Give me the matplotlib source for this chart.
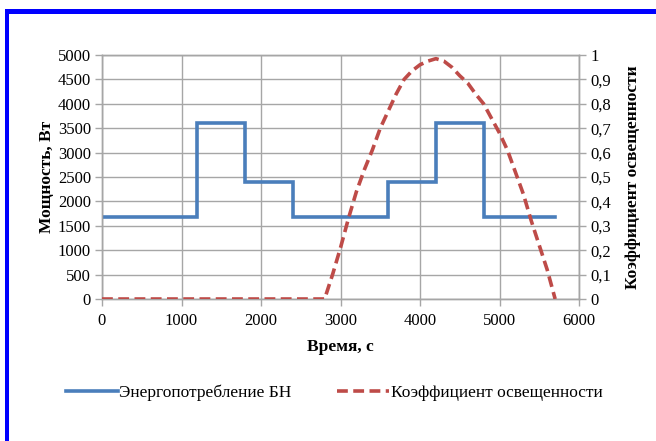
import matplotlib
matplotlib.use("Agg")
import matplotlib.pyplot as plt
from matplotlib.patches import Rectangle
from matplotlib.ticker import FixedLocator, FuncFormatter

# Power consumption of the onboard network (step profile), W
power_time = [0, 1200, 1200, 1800, 1800, 2400, 2400, 3600, 3600, 4200, 4200, 4800, 4800, 5700]
power_w = [1680, 1680, 3600, 3600, 2400, 2400, 1680, 1680, 2400, 2400, 3600, 3600, 1680, 1680]

# Illumination coefficient over time
light_time = [0, 2800, 2900, 3000, 3100, 3200, 3300, 3400, 3500, 3600, 3700, 3800, 3900,
              4000, 4100, 4200, 4300, 4400, 4500, 4600, 4700, 4800, 4900, 5000, 5100,
              5200, 5300, 5400, 5500, 5600, 5700]
light_k = [0, 0, 0.10, 0.21, 0.33, 0.44, 0.53, 0.61, 0.70, 0.77, 0.84, 0.90, 0.935,
           0.96, 0.975, 0.985, 0.975, 0.95, 0.915, 0.885, 0.84, 0.80, 0.74, 0.68, 0.61,
           0.52, 0.43, 0.32, 0.22, 0.12, 0.0]

x_ticks = [0, 1000, 2000, 3000, 4000, 5000, 6000]
y_ticks = [0, 500, 1000, 1500, 2000, 2500, 3000, 3500, 4000, 4500, 5000]
k_ticks = [0, 0.1, 0.2, 0.3, 0.4, 0.5, 0.6, 0.7, 0.8, 0.9, 1.0]

series_names = ["Энергопотребление БН", "Коэффициент освещенности"]
x_label = "Время, с"
y_label = "Мощность, Вт"
k_label = "Коэффициент освещенности"

plt.rcParams["font.family"] = ["Liberation Serif", "DejaVu Serif"]

W, H = 656, 441
fig = plt.figure(figsize=(W / 100, H / 100), dpi=100)

# blue frame around the chart
fig.patches.append(Rectangle((5 / W, 0), 3.5 / W, (H - 9) / H, transform=fig.transFigure,
                             facecolor="#0000ff", edgecolor="none"))
fig.patches.append(Rectangle((5 / W, (H - 14) / H), (W - 5) / W, 4.5 / H, transform=fig.transFigure,
                             facecolor="#0000ff", edgecolor="none"))

ax = fig.add_axes([102 / W, (H - 299) / H, (579 - 102) / W, (299 - 55) / H])
ax2 = ax.twinx()

grid_c = "#a6a6a6"
blue = "#4a7ebb"
red = "#be4b48"

ax.plot(power_time, power_w, color=blue, lw=2.6, solid_joinstyle="miter", zorder=3,
        label=series_names[0])
ax2.plot(light_time, light_k, color=red, lw=2.6, dashes=(3.0, 1.5), zorder=3,
         label=series_names[1])

ax.set_xlim(0, 6000)
ax.set_ylim(0, 5000)
ax2.set_ylim(0, 1)
ax.xaxis.set_major_locator(FixedLocator(x_ticks))
ax.yaxis.set_major_locator(FixedLocator(y_ticks))
ax2.yaxis.set_major_locator(FixedLocator(k_ticks))
ax2.yaxis.set_major_formatter(FuncFormatter(
    lambda v, p: "0" if v == 0 else ("1" if v == 1 else f"{v:.1f}".replace(".", ","))))

ax.grid(True, color=grid_c, lw=1.0)
ax.set_axisbelow(True)

for a in (ax, ax2):
    for s in a.spines.values():
        s.set_color(grid_c)
        s.set_linewidth(1.0)
    a.tick_params(colors=grid_c, labelcolor="black", labelsize=12, length=5, width=1.0)

ax.tick_params(axis="x", pad=5)
ax.tick_params(axis="y", pad=3)
ax2.tick_params(axis="y", pad=3)

ax.set_xlabel(x_label, fontsize=12.5, fontweight="bold", labelpad=7)
ax.set_ylabel(y_label, fontsize=12.5, fontweight="bold", labelpad=2)
ax2.set_ylabel(k_label, fontsize=12.5, fontweight="bold", labelpad=10, rotation=90)

h1, l1 = ax.get_legend_handles_labels()
h2, l2 = ax2.get_legend_handles_labels()
fig.legend(h1 + h2, l1 + l2, loc="center", bbox_to_anchor=(334 / W, (H - 393) / H),
           ncol=2, frameon=False, fontsize=12.5, handlelength=3.0, handletextpad=0.1,
           columnspacing=2.6)

fig.savefig("out.png", dpi=100)
